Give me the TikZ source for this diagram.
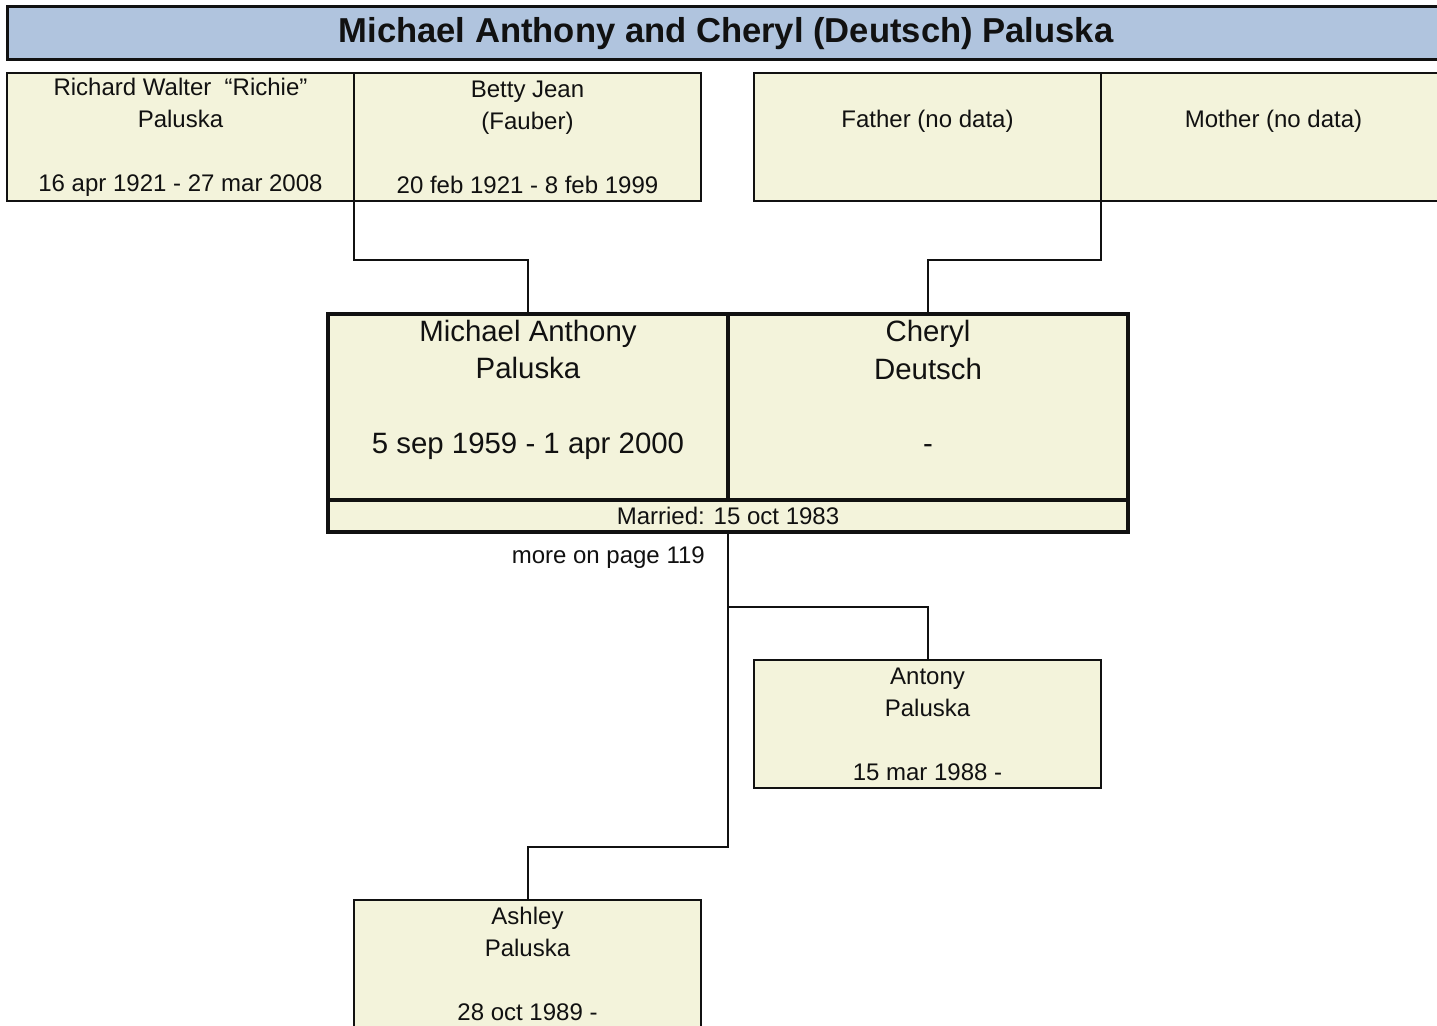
\documentclass[tikz,border=0pt]{standalone}
\usepackage{fontspec}
\setmainfont{Liberation Sans}
\definecolor{boxfill}{RGB}{243,243,219}
\definecolor{titlefill}{RGB}{176,196,222}
\definecolor{ink}{RGB}{17,17,17}
\tikzset{
  pbox/.style={draw=ink, fill=boxfill, line width=2pt, inner sep=0pt, outer sep=0pt, anchor=north west,
    minimum width=347pt, minimum height=128pt, align=center, text=ink,
    font=\fontsize{24}{32}\selectfont},
  cbox/.style={draw=ink, fill=boxfill, line width=3.5pt, inner sep=0pt, outer sep=0pt, anchor=north west,
    minimum width=400pt, minimum height=186pt},
  ctext/.style={align=center, text=ink, inner sep=0pt, font=\fontsize{29.4}{37.3}\selectfont},
  mbox/.style={draw=ink, fill=boxfill, line width=3.5pt, inner sep=0pt, outer sep=0pt, anchor=north west,
    minimum width=800pt, minimum height=32pt, text=ink, font=\fontsize{24}{28}\selectfont},
  titlebox/.style={draw=ink, fill=titlefill, line width=3pt, inner sep=0pt, outer sep=0pt, anchor=north west,
    minimum width=1438pt, minimum height=53pt, text=ink, font=\fontsize{34.6}{40}\selectfont\bfseries},
  conn/.style={draw=ink, line width=2pt},
  note/.style={text=ink, inner sep=0pt, font=\fontsize{24}{28}\selectfont}
}
\begin{document}
\begin{tikzpicture}[x=1pt, y=-1pt]
\clip (0,0) rectangle (1437,1025);
\fill[white] (0,0) rectangle (1437,1025);
% title
\node[titlebox] (title) at (7,7) {Michael Anthony and Cheryl (Deutsch) Paluska};
% grandparents
\node[pbox] (richard) at (7,73) {Richard Walter\ \ “Richie”\\Paluska\\[32pt]16 apr 1921 - 27 mar 2008};
\node[pbox] (betty) at (354,73) {Betty Jean\\(Fauber)\\[32pt]20 feb 1921 - 8 feb 1999};
\node[pbox] (father) at (754,73) {\strut\\Father (no data)\\[32pt]\strut};
\node[pbox, minimum width=345pt] (mother) at (1101,73) {\strut\\Mother (no data)\\[32pt]\strut};
% couple
\node[cbox] (michael) at (328,314) {};
\node[cbox] (cheryl) at (728,314) {};
\node[mbox] (married) at (328,500) {Married: 15 oct 1983};
\node[ctext] (michaelT) at (528,390) {Michael Anthony\\Paluska\\[37.3pt]5 sep 1959 - 1 apr 2000};
\node[ctext] (cherylT) at (928,387) {Cheryl\\Deutsch\\[37.3pt]-};
\node[note, anchor=east] (more) at (705,558) {more on page 119};
% children
\node[pbox] (antony) at (754,660) {Antony\\Paluska\\[32pt]15 mar 1988 -};
\node[pbox] (ashley) at (354,900) {Ashley\\Paluska\\[32pt]28 oct 1989 -};
% connectors
\coordinate (j1) at (440,260);
\coordinate (j2) at (1000,260);
\coordinate (k1) at (728,607);
\coordinate (k2) at (728,847);
\draw[conn] (richard.south east) |- (j1) -| (michael.north);
\draw[conn] (father.south east) |- (j2) -| (cheryl.north);
\draw[conn] (married.south) -- (k2) -| (ashley.north);
\draw[conn] (k1) -| (antony.north);
\end{tikzpicture}
\end{document}
